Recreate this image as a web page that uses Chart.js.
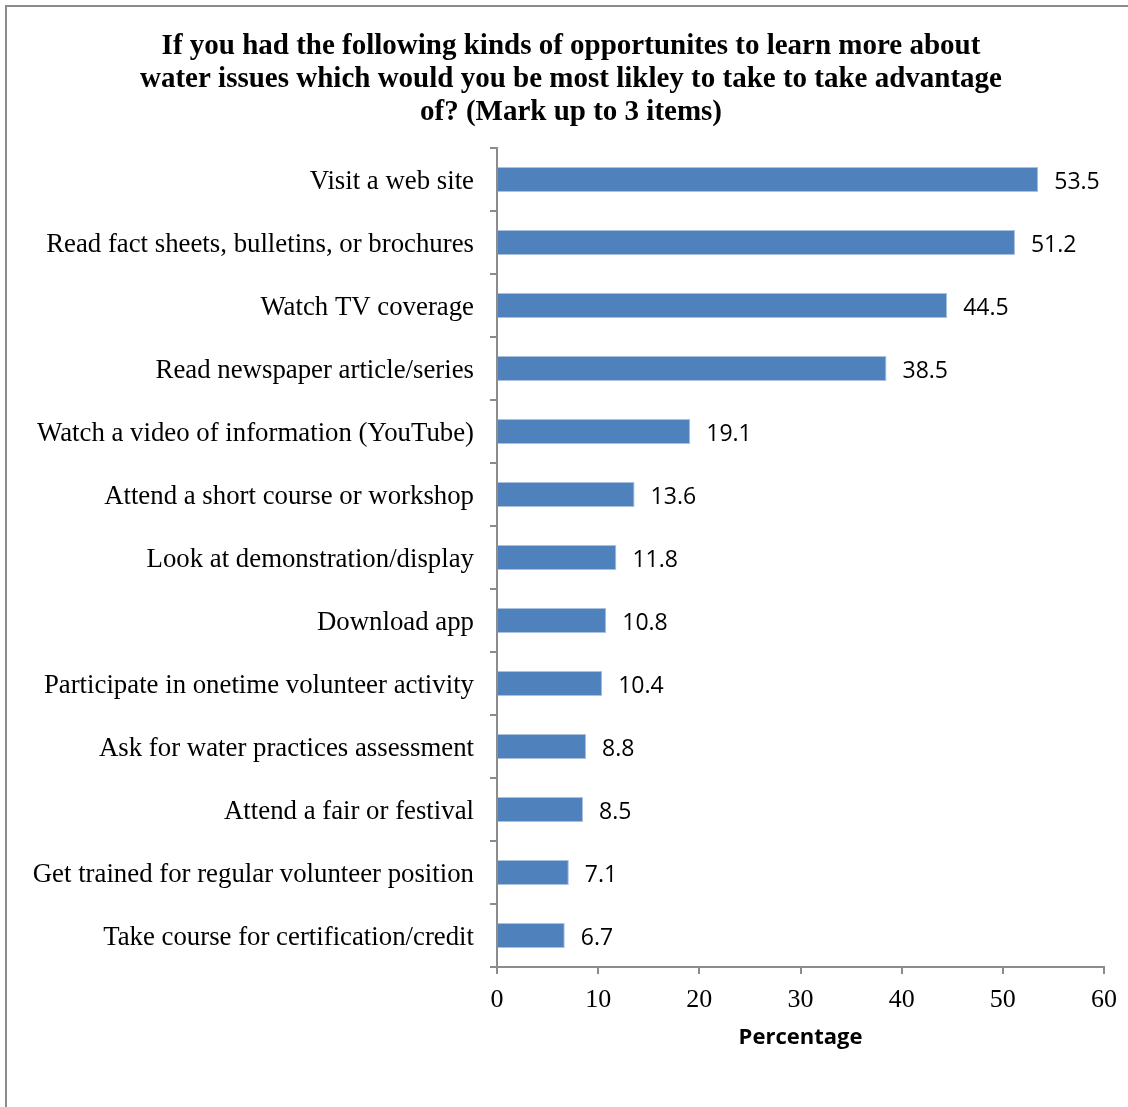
<!DOCTYPE html>
<html>
<head>
<meta charset="utf-8">
<script src="https://cdn.jsdelivr.net/npm/chart.js@4.4.0/dist/chart.umd.min.js"></script>
<style>
  body { margin: 0; background: #fff; }
  #wrap { position: relative; width: 1128px; height: 1107px; overflow: hidden; }
  #frame { position: absolute; left: 5px; top: 5px; width: 1200px; height: 1200px;
           border-left: 2px solid #8c8c8c; border-top: 2px solid #8c8c8c; }
  canvas { position: absolute; left: 0; top: 0; }
</style>
</head>
<body>
<div id="wrap">
  <div id="frame"></div>
  <canvas id="chart" width="1128" height="1107"></canvas>
</div>
<script>
const categories = [
    "Visit a web site",
    "Read fact sheets, bulletins, or brochures",
    "Watch TV coverage",
    "Read newspaper article/series",
    "Watch a video of information (YouTube)",
    "Attend a short course or workshop",
    "Look at demonstration/display",
    "Download app",
    "Participate in onetime volunteer activity",
    "Ask for water practices assessment",
    "Attend a fair or festival",
    "Get trained for regular volunteer position",
    "Take course for certification/credit"
];
const percentages = [53.5, 51.2, 44.5, 38.5, 19.1, 13.6, 11.8, 10.8, 10.4, 8.8, 8.5, 7.1, 6.7];
const titleLines = [
    "If you had the following kinds of opportunites to learn more about",
    "water issues which would you be most likley to take to take advantage",
    "of? (Mark up to 3 items)"
];

const axisGray = "#8c8c8c";

// draws the value next to each bar
const valueLabels = {
    id: "valueLabels",
    afterDatasetsDraw(chart) {
        const ctx = chart.ctx;
        const meta = chart.getDatasetMeta(0);
        ctx.save();
        ctx.font = "23px 'Open Sans'";
        ctx.fillStyle = "#000";
        ctx.textAlign = "left";
        ctx.textBaseline = "middle";
        meta.data.forEach((bar, i) => {
            ctx.fillText(percentages[i].toFixed(1), bar.x + 16, bar.y + 3);
        });
        ctx.restore();
    }
};

new Chart(document.getElementById("chart"), {
    type: "bar",
    data: {
        labels: categories,
        datasets: [{
            data: percentages,
            backgroundColor: "#4f81bd",
            borderColor: "#a9c0df",
            borderWidth: 1,
            categoryPercentage: 1,
            barPercentage: 0.4
        }]
    },
    options: {
        indexAxis: "y",
        responsive: false,
        devicePixelRatio: 1,
        animation: false,
        layout: {
            // uneven side padding pushes the centred title a bit right
            padding: { left: 30, right: 16, top: 0, bottom: 56 }
        },
        plugins: {
            legend: { display: false },
            tooltip: { enabled: false },
            title: {
                display: true,
                text: titleLines,
                color: "#000",
                font: { family: "'Liberation Serif'", size: 29, weight: "bold", lineHeight: 1.138 },
                padding: { top: 30, bottom: 19 }
            }
        },
        scales: {
            x: {
                min: 0,
                max: 60,
                ticks: {
                    stepSize: 10,
                    color: "#000",
                    padding: 11,
                    font: { family: "'Liberation Serif'", size: 26 }
                },
                grid: {
                    drawOnChartArea: false,
                    color: axisGray,
                    lineWidth: 2,
                    tickLength: 7
                },
                border: { color: axisGray, width: 2 },
                title: {
                    display: true,
                    text: "Percentage",
                    color: "#000",
                    font: { family: "'Open Sans'", size: 22, weight: "bold" },
                    padding: { top: 0, bottom: 0 }
                },
                afterFit(scale) { scale.height = 84; }
            },
            y: {
                ticks: {
                    color: "#000",
                    padding: 16,
                    labelOffset: 2,
                    font: { family: "'Liberation Serif'", size: 26.8 }
                },
                grid: {
                    drawOnChartArea: false,
                    color: axisGray,
                    lineWidth: 2,
                    tickLength: 7,
                    offset: true
                },
                border: { color: axisGray, width: 2 },
                afterFit(scale) { scale.width = 467; }
            },
            // empty spacer on the right so the plot ends at 60 where the reference does
            spacer: {
                type: "linear",
                axis: "y",
                position: "right",
                ticks: { display: false },
                grid: { display: false },
                border: { display: false },
                afterFit(scale) { scale.width = 7; }
            }
        }
    },
    plugins: [valueLabels]
});
</script>
</body>
</html>
